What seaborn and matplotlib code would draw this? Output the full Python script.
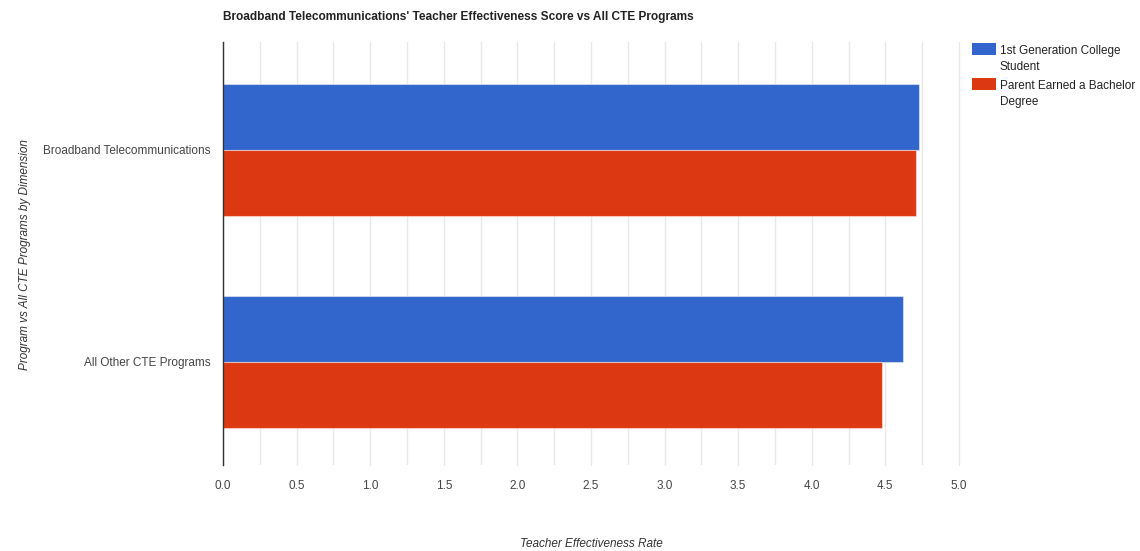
import matplotlib
matplotlib.use("Agg")
import matplotlib.pyplot as plt
import matplotlib.patches as mpatches
import seaborn as sns
import pandas as pd
import numpy as np

programs = ["Broadband Telecommunications", "All Other CTE Programs"]
series = ["1st Generation College Student", "Parent Earned a Bachelor Degree"]
first_gen = [4.73, 4.62]
parent_bachelor = [4.71, 4.48]
colors = ["#3366CC", "#DC3912"]
legend_labels = ["1st Generation College\nStudent", "Parent Earned a Bachelor\nDegree"]

df = pd.DataFrame({
    "program": programs * 2,
    "group": [series[0]] * 2 + [series[1]] * 2,
    "rate": first_gen + parent_bachelor,
})

sns.set_theme(style="white")
plt.rcParams["font.family"] = ["Liberation Sans", "DejaVu Sans"]

W, H = 1140, 551
fig = plt.figure(figsize=(W / 100, H / 100), dpi=100)
ax = fig.add_axes([223 / W, 86 / H, 736 / W, 423 / H])

sns.barplot(data=df, y="program", x="rate", hue="group", order=programs,
            hue_order=series, palette=colors, orient="h", width=0.625,
            saturation=1, ax=ax, legend=False, edgecolor="none")
for p in ax.patches:
    p.set_edgecolor((1, 1, 1, 0.45))
    p.set_linewidth(0.8)

ax.set_xlim(0, 5.0)
ax.set_ylim(1.486, -0.509)
ax.set_xticks(np.arange(0, 5.01, 0.5))
ax.set_xticks(np.arange(0.25, 5.0, 0.5), minor=True)
ax.set_xticklabels([f"{v:.1f}" for v in np.arange(0, 5.01, 0.5)])
ax.grid(axis="x", which="both", color="#e8e8e8", linewidth=1)
for gl in ax.get_xgridlines():
    gl.set_clip_on(False)
ax.set_axisbelow(True)
for s in ["top", "right", "bottom"]:
    ax.spines[s].set_visible(False)
ax.spines["left"].set_color("#333333")
ax.spines["left"].set_linewidth(1)
ax.tick_params(axis="both", which="both", length=0, labelsize=8.5, colors="#444444")
ax.tick_params(axis="x", pad=11)
ax.tick_params(axis="y", pad=9)
ax.set_xlabel("")
ax.set_ylabel("")

fig.text(591 / W, 1 - 544 / H, "Teacher Effectiveness Rate", fontsize=8.5,
         style="italic", color="#333333", ha="center", va="center")
fig.text(25 / W, 1 - 255 / H, "Program vs All CTE Programs by Dimension",
         fontsize=8.5, style="italic", color="#333333", ha="center",
         va="center", rotation=90)

fig.text(223 / W, 1 - 17 / H,
         "Broadband Telecommunications' Teacher Effectiveness Score vs All CTE Programs",
         fontsize=8.6, fontweight="bold", color="#222222", va="center", ha="left")

# Legend: colour swatch aligned with the first line of each wrapped label
legend_tops = [43, 78]
for top, color, label in zip(legend_tops, colors, legend_labels):
    fig.add_artist(mpatches.Rectangle((972 / W, 1 - (top + 12) / H), 24 / W, 12 / H,
                                      transform=fig.transFigure, facecolor=color,
                                      edgecolor="none"))
    fig.text(1000 / W, 1 - (top + 2) / H, label, fontsize=8.5, color="#222222",
             ha="left", va="top", linespacing=1.5)

fig.savefig("out.png", dpi=100)
